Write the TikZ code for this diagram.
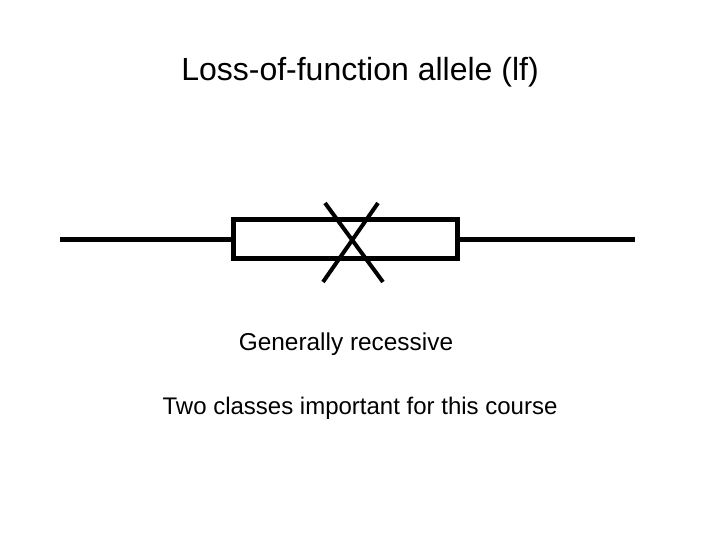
\documentclass[tikz,border=0pt]{standalone}
\usepackage{fontspec}
\setmainfont{Liberation Sans}
\begin{document}
\begin{tikzpicture}[x=1pt,y=-1pt,thick line/.style={line width=5pt}]
\useasboundingbox (0,0) rectangle (720,540);
\node (title) at (360,72) {\fontsize{32}{38}\selectfont Loss-of-function allele (lf)};
\coordinate (l) at (60,239);
\coordinate (r) at (635,239);
\node[draw,line width=5pt,minimum width=224pt,minimum height=38pt,inner sep=0pt] (box) at (345,239) {};
\draw[thick line] (l) -- (box.west);
\draw[thick line] (box.east) -- (r);
\draw[line width=4pt] (325,203) -- (383,282);
\draw[line width=4pt] (378,203) -- (323,282);
\node (t1) at (346,344) {\fontsize{24.4}{29}\selectfont Generally recessive};
\node (t2) at (360,408) {\fontsize{24}{29}\selectfont Two classes important for this course};
\end{tikzpicture}
\end{document}
